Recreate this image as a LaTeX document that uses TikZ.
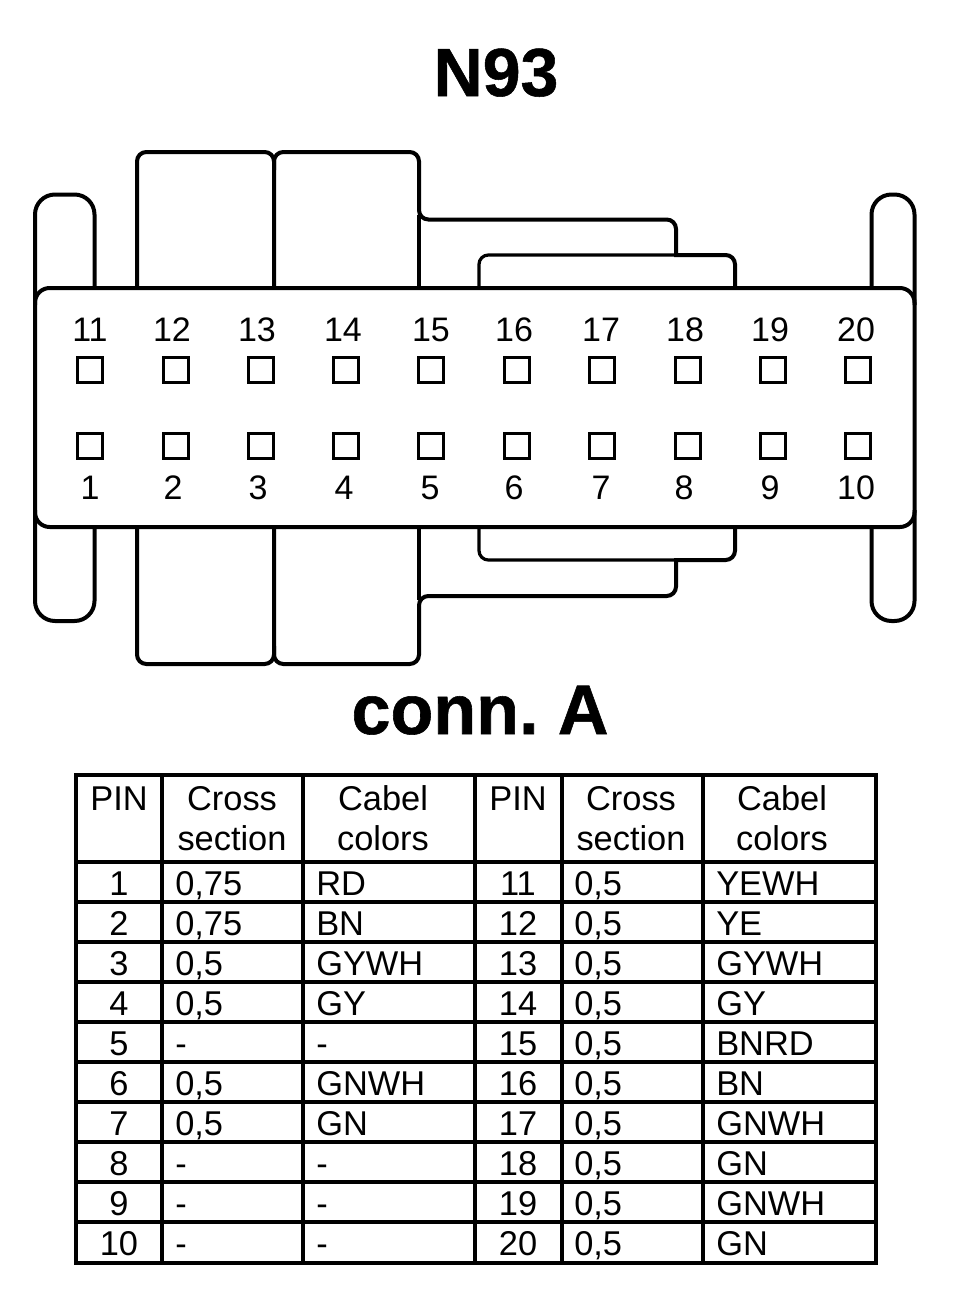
\documentclass[tikz,border=0pt]{standalone}
\usepackage{fontspec}
\setmainfont{Liberation Sans}
\newfontfamily\heavyfont[FakeBold=0.8]{Liberation Sans Bold}
\usetikzlibrary{positioning}

\tikzset{
	outline/.style={line width=3pt, rounded corners=7pt},
	tabshape/.style={line width=3pt, rounded corners=15pt},
	divider/.style={line width=2.4pt},
	pinbox/.style={draw, line width=2.25pt, minimum size=18.75pt, inner sep=0pt},
	pinlabel/.style={anchor=base, inner sep=0pt, font=\fontsize{25.5}{28}\selectfont},
	cellc/.style={anchor=base, inner sep=0pt, font=\fontsize{25.8}{28}\selectfont},
	celll/.style={anchor=base west, inner sep=0pt, font=\fontsize{25.8}{28}\selectfont},
	title/.style={anchor=base, inner sep=0pt, font=\fontsize{51}{56}\heavyfont}
}

\begin{document}
\begin{tikzpicture}[x=0.75pt, y=-0.75pt]
	\useasboundingbox (0,0) rectangle (960,1306);

	\node (n93) [title] at (496,96) {N93};
	\node (conn) [title, font=\fontsize{52.6}{56}\heavyfont] at (480,734) {conn.\hspace{-5pt} A};

	% body
	\draw [line width=3pt, rounded corners=11pt] (35,288) rectangle (914.5,527);

	% upper part
	\draw [tabshape] (35,305) -- (35,194.5) -- (94.5,194.5) -- (94.5,288);
	\draw [tabshape] (871.5,288) -- (871.5,194.5) -- (914.5,194.5) -- (914.5,305);
	\draw [outline] (137,288) -- (137,152) -- (274,152) -- (274,170);
	\draw [line width=3.6pt] (137,288) -- (137,165);
	\draw [outline] (274,288) -- (274,152) -- (419,152) -- (419,219.5) -- (676,219.5) -- (676,255);
	\draw [divider] (419,215) -- (419,288);
	\draw [divider, rounded corners=7pt] (479,288) -- (479,255) -- (676,255);
	\draw [outline] (674,255) -- (735,255) -- (735,288);

	% lower part
	\draw [tabshape] (35,510) -- (35,621) -- (94.5,621) -- (94.5,527);
	\draw [tabshape] (871.5,527) -- (871.5,621) -- (914.5,621) -- (914.5,510);
	\draw [outline] (137,527) -- (137,664) -- (274,664) -- (274,646);
	\draw [line width=3.6pt] (137,527) -- (137,651);
	\draw [outline] (274,527) -- (274,664) -- (419,664) -- (419,596) -- (676,596) -- (676,560);
	\draw [divider] (419,600) -- (419,527);
	\draw [divider, rounded corners=7pt] (479,527) -- (479,560) -- (676,560);
	\draw [outline] (674,560) -- (735,560) -- (735,527);

	% pins
	\foreach \n/\bx/\tx in {11/90/90, 12/175.5/172, 13/261/257, 14/346/343, 15/431/431,
		16/517/514, 17/602/601, 18/687.5/685, 19/773/770, 20/858/856} {
		\node (box\n) [pinbox] at (\bx,370) {};
		\node (lab\n) [pinlabel] at (\tx,341.5) {\n};
	}
	\foreach \n/\bx/\tx in {1/90/90, 2/175.5/173, 3/261/258, 4/346/344, 5/431/430,
		6/517/514, 7/602/601, 8/687.5/684, 9/773/770, 10/858/856} {
		\node (box\n) [pinbox] at (\bx,446) {};
		\node (lab\n) [pinlabel] at (\tx,499.5) {\n};
	}

	% table
	\draw [line width=3.6pt] (76,775) rectangle (876,1263);
	\foreach \x in {303,562,703}
		\draw [divider] (\x,775) -- (\x,1263);
	\draw [line width=3pt] (162,775) -- (162,1263);
	\draw [line width=3.6pt] (475,775) -- (475,1263);
	\draw [line width=3pt] (76,862) -- (876,862);
	\foreach \y in {902,942,982,1022,1062,1102,1142,1182,1222}
		\draw [divider] (76,\y) -- (876,\y);

	\node (ha) [cellc] at (119,810) {PIN};
	\node (hb) [cellc] at (232,810) {Cross};
	\node (hc) [cellc] at (232,850) {section};
	\node (hd) [cellc] at (383,810) {Cabel};
	\node (he) [cellc] at (383,850) {colors};
	\node (hf) [cellc] at (518,810) {PIN};
	\node (hg) [cellc] at (631,810) {Cross};
	\node (hh) [cellc] at (631,850) {section};
	\node (hi) [cellc] at (782,810) {Cabel};
	\node (hj) [cellc] at (782,850) {colors};

	\foreach \p/\cs/\col [count=\r from 0] in {{1/0,75/RD}, {2/0,75/BN}, {3/0,5/GYWH}, {4/0,5/GY}, 5/-/-,
		{6/0,5/GNWH}, {7/0,5/GN}, 8/-/-, 9/-/-, 10/-/-} {
		\node (p\p) [cellc] at (119,895+40*\r) {\p};
		\node (s\p) [celll] at (175,895+40*\r) {\cs};
		\node (c\p) [celll] at (316,895+40*\r) {\col};
	}
	\foreach \p/\cs/\col [count=\r from 0] in {{11/0,5/YEWH}, {12/0,5/YE}, {13/0,5/GYWH}, {14/0,5/GY}, {15/0,5/BNRD},
		{16/0,5/BN}, {17/0,5/GNWH}, {18/0,5/GN}, {19/0,5/GNWH}, {20/0,5/GN}} {
		\node (p\p) [cellc] at (518,895+40*\r) {\p};
		\node (s\p) [celll] at (574,895+40*\r) {\cs};
		\node (c\p) [celll] at (716,895+40*\r) {\col};
	}
\end{tikzpicture}
\end{document}
